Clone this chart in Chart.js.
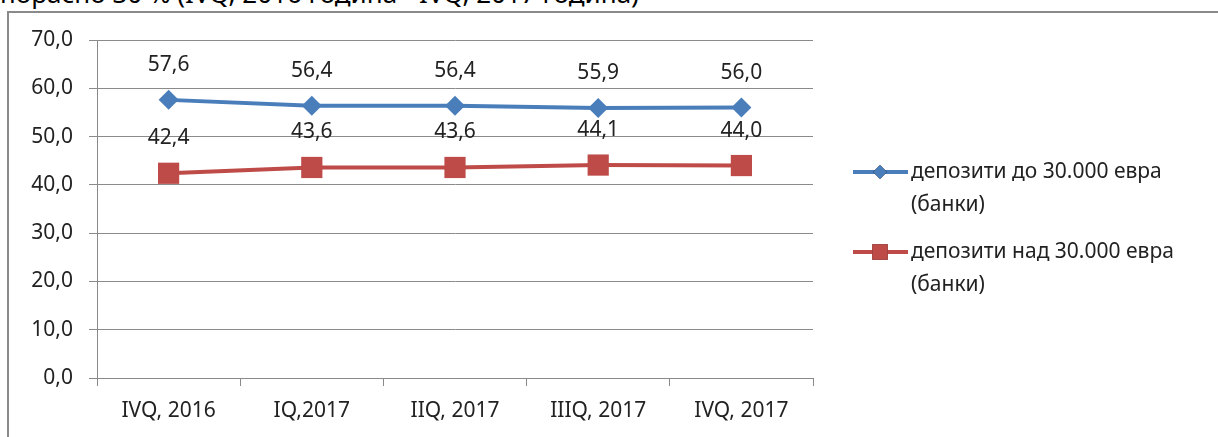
<!DOCTYPE html>
<html>
<head>
<meta charset="utf-8">
<script src="https://cdn.jsdelivr.net/npm/chart.js@4/dist/chart.umd.min.js"></script>
<style>
  html, body { margin: 0; padding: 0; background: #fff; overflow: hidden; }
  body { width: 1218px; height: 437px; position: relative; }
  #caption {
    position: absolute; left: 0; top: -25px;
    font: 26px "Noto Sans", sans-serif; color: #000; white-space: nowrap;
  }
  #frame {
    position: absolute; left: 7px; top: 11px; width: 1300px; height: 500px;
    border-left: 2px solid #8a8a8a; border-top: 2px solid #8a8a8a;
  }
  #chart { position: absolute; left: 0; top: 0; }
</style>
</head>
<body>
<div id="caption">порасно 30 % (IVQ, 2016 година - IVQ, 2017 година)</div>
<div id="frame"></div>
<canvas id="chart" width="1218" height="437"></canvas>
<script>
const quarters = ['IVQ, 2016', 'IQ,2017', 'IIQ, 2017', 'IIIQ, 2017', 'IVQ, 2017'];
const upTo30k = [57.6, 56.4, 56.4, 55.9, 56.0];
const over30k = [42.4, 43.6, 43.6, 44.1, 44.0];
const seriesNames = [
    ['депозити до 30.000 евра', '(банки)'],
    ['депозити над 30.000 евра', '(банки)']
];

const FONT = '"Noto Sans", sans-serif';
const fmt = v => v.toFixed(1).replace('.', ',');

// value labels above each point
const valueLabels = {
    id: 'valueLabels',
    afterDatasetsDraw(chart) {
        const ctx = chart.ctx;
        ctx.save();
        ctx.font = '21px ' + FONT;
        ctx.fillStyle = '#222';
        ctx.textAlign = 'center';
        ctx.textBaseline = 'middle';
        chart.data.datasets.forEach((ds, i) => {
            chart.getDatasetMeta(i).data.forEach((pt, j) => {
                ctx.fillText(fmt(ds.data[j]), pt.x, pt.y - 35);
            });
        });
        ctx.restore();
    }
};

// legend on the right, two-line entries
const sideLegend = {
    id: 'sideLegend',
    afterDraw(chart) {
        const ctx = chart.ctx;
        const rows = [172, 252];
        ctx.save();
        chart.data.datasets.forEach((ds, i) => {
            const y = rows[i];
            ctx.strokeStyle = ds.borderColor;
            ctx.lineWidth = 4;
            ctx.beginPath();
            ctx.moveTo(853, y);
            ctx.lineTo(908, y);
            ctx.stroke();
            Chart.helpers.drawPoint(ctx, {
                pointStyle: ds.pointStyle,
                radius: i === 0 ? 7 : 11,
                borderWidth: 0,
                rotation: 0
            }, 880, y);
            ctx.fillStyle = ds.backgroundColor;
            ctx.fill();
            ctx.font = '21px ' + FONT;
            ctx.fillStyle = '#222';
            ctx.textAlign = 'left';
            ctx.textBaseline = 'middle';
            seriesNames[i].forEach((t, k) => ctx.fillText(t, 911, y + k * 33));
        });
        ctx.restore();
    }
};

new Chart(document.getElementById('chart').getContext('2d'), {
    type: 'line',
    data: {
        labels: quarters,
        datasets: [{
            label: seriesNames[0].join(' '),
            data: upTo30k,
            borderColor: '#4a7ebb',
            backgroundColor: '#4a7ebb',
            borderWidth: 4,
            pointStyle: 'rectRot',
            pointRadius: 10,
            pointHoverRadius: 10,
            pointBorderWidth: 0,
            tension: 0
        }, {
            label: seriesNames[1].join(' '),
            data: over30k,
            borderColor: '#be4b48',
            backgroundColor: '#be4b48',
            borderWidth: 4,
            pointStyle: 'rect',
            pointRadius: 15,
            pointHoverRadius: 15,
            pointBorderWidth: 0,
            tension: 0
        }]
    },
    options: {
        responsive: false,
        animation: false,
        events: [],
        layout: { padding: { left: 0, right: 405, top: 40, bottom: 0 } },
        plugins: {
            legend: { display: false },
            tooltip: { enabled: false }
        },
        scales: {
            x: {
                offset: true,
                afterFit: s => { s.height = 59; },
                grid: {
                    offset: true,
                    drawOnChartArea: false,
                    drawTicks: true,
                    tickLength: 8,
                    color: '#8a8a8a'
                },
                border: { color: '#8a8a8a', width: 1 },
                ticks: {
                    padding: 12,
                    maxRotation: 0,
                    color: '#222',
                    font: { family: FONT, size: 21 }
                }
            },
            y: {
                min: 0,
                max: 70,
                afterFit: s => { s.width = 97; },
                grid: { color: '#8a8a8a', tickLength: 8 },
                border: { color: '#8a8a8a', width: 1 },
                ticks: {
                    stepSize: 10,
                    padding: 16,
                    color: '#222',
                    font: { family: FONT, size: 21 },
                    callback: v => fmt(v)
                }
            }
        }
    },
    plugins: [valueLabels, sideLegend]
});
</script>
</body>
</html>
